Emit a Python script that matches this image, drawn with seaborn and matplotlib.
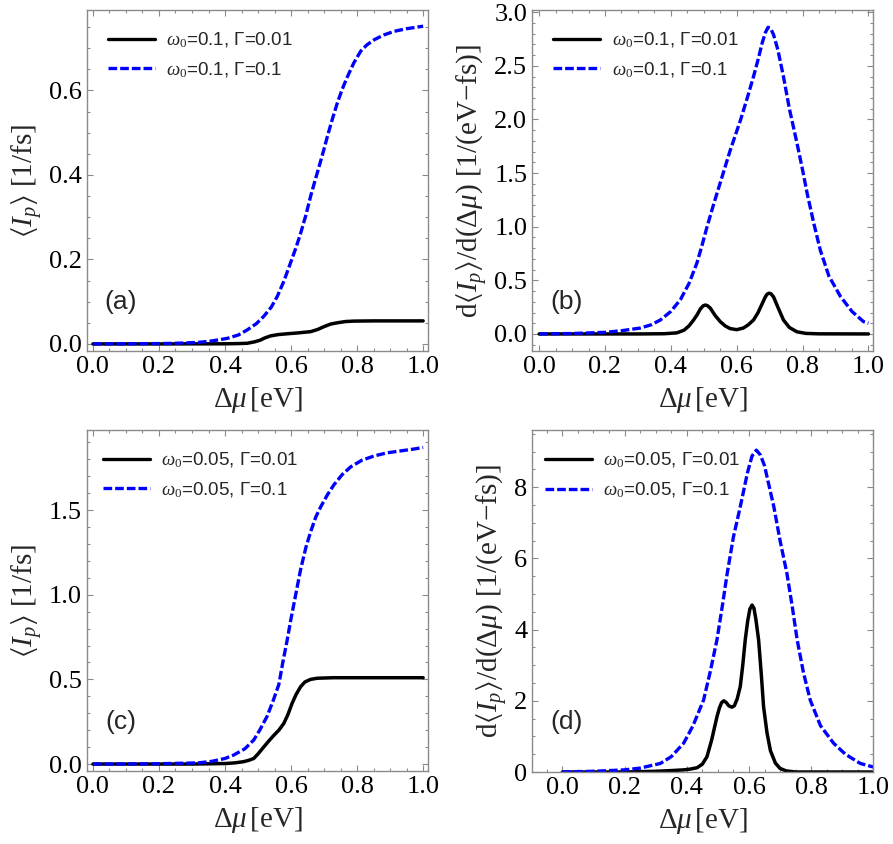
import numpy as np
import pandas as pd

import matplotlib
matplotlib.use('Agg')
import matplotlib.pyplot as plt
from matplotlib.ticker import AutoMinorLocator, MultipleLocator
import seaborn as sns

# ---- data ----
# (a) <I_p>, omega0 = 0.1
xa_blue = [0.0, 0.1, 0.2, 0.25, 0.3, 0.325, 0.36, 0.406, 0.44, 0.467, 0.495, 0.517, 0.54, 0.558,
           0.578, 0.598, 0.615, 0.629, 0.645, 0.659, 0.672, 0.685, 0.698, 0.71, 0.725, 0.74, 0.755,
           0.771, 0.79, 0.811, 0.83, 0.852, 0.88, 0.913, 0.95, 1.0]
ya_blue = [0.0, 0.0002, 0.0008, 0.0015, 0.003, 0.004, 0.007, 0.013, 0.021, 0.033, 0.048, 0.065,
           0.087, 0.112, 0.148, 0.191, 0.228, 0.262, 0.305, 0.349, 0.385, 0.42, 0.456, 0.491, 0.532,
           0.57, 0.603, 0.633, 0.665, 0.693, 0.708, 0.72, 0.731, 0.74, 0.746, 0.752]
xa_black = [0.0, 0.2, 0.4, 0.44, 0.467, 0.49, 0.507, 0.52, 0.538, 0.56, 0.588, 0.62, 0.659, 0.68,
            0.70, 0.72, 0.74, 0.765, 0.791, 0.85, 1.0]
ya_black = [0.0, 0.0, 0.0003, 0.0008, 0.0015, 0.005, 0.009, 0.014, 0.019, 0.022, 0.024, 0.026,
            0.029, 0.034, 0.041, 0.047, 0.05, 0.053, 0.054, 0.0545, 0.0545]

# (b) d<I_p>/d(dmu), omega0 = 0.1
xb_blue = [0.0, 0.1, 0.2, 0.25, 0.307, 0.34, 0.368, 0.4, 0.429, 0.455, 0.479, 0.495, 0.51, 0.53,
           0.55, 0.58, 0.611, 0.631, 0.651, 0.665, 0.677, 0.687, 0.695, 0.703, 0.712, 0.725, 0.742,
           0.76, 0.783, 0.8, 0.814, 0.835, 0.854, 0.88, 0.915, 0.95, 0.985, 1.0]
yb_blue = [0.0, 0.004, 0.015, 0.03, 0.055, 0.085, 0.13, 0.21, 0.32, 0.47, 0.66, 0.83, 1.0, 1.21,
           1.41, 1.71, 1.99, 2.19, 2.40, 2.56, 2.71, 2.81, 2.86, 2.85, 2.79, 2.65, 2.40, 2.10, 1.78,
           1.53, 1.31, 1.02, 0.78, 0.54, 0.35, 0.21, 0.115, 0.10]
xb_black = [0.0, 0.3, 0.38, 0.418, 0.44, 0.455, 0.469, 0.48, 0.49, 0.498, 0.505, 0.512, 0.52,
            0.535, 0.55, 0.565, 0.58, 0.60, 0.62, 0.635, 0.651, 0.665, 0.677, 0.686, 0.692, 0.698,
            0.704, 0.712, 0.725, 0.742, 0.76, 0.783, 0.81, 0.85, 1.0]
yb_black = [0.0, 0.0, 0.002, 0.01, 0.035, 0.075, 0.13, 0.18, 0.235, 0.262, 0.27, 0.262, 0.24,
            0.17, 0.115, 0.075, 0.05, 0.04, 0.055, 0.085, 0.13, 0.2, 0.28, 0.34, 0.37, 0.38,
            0.375, 0.345, 0.25, 0.13, 0.06, 0.02, 0.005, 0.001, 0.0]

# (c) <I_p>, omega0 = 0.05
xc_blue = [0.0, 0.1, 0.2, 0.25, 0.3, 0.325, 0.36, 0.4, 0.426, 0.46, 0.487, 0.505, 0.527, 0.545,
           0.563, 0.575, 0.588, 0.6, 0.609, 0.62, 0.629, 0.645, 0.659, 0.675, 0.69, 0.71, 0.73,
           0.755, 0.781, 0.815, 0.852, 0.89, 0.933, 0.97, 1.0]
yc_blue = [0.0, 0.0005, 0.002, 0.004, 0.006, 0.008, 0.016, 0.033, 0.053, 0.09, 0.142, 0.20, 0.28,
           0.37, 0.47, 0.60, 0.73, 0.86, 0.95, 1.06, 1.15, 1.28, 1.37, 1.46, 1.52, 1.59, 1.65,
           1.71, 1.756, 1.795, 1.82, 1.838, 1.85, 1.86, 1.87]
xc_black = [0.0, 0.3, 0.4, 0.43, 0.456, 0.472, 0.487, 0.5, 0.517, 0.532, 0.548, 0.563, 0.578, 0.59,
            0.603, 0.615, 0.629, 0.642, 0.659, 0.68, 0.73, 0.8, 1.0]
yc_black = [0.0, 0.0, 0.003, 0.007, 0.014, 0.022, 0.033, 0.06, 0.10, 0.135, 0.17, 0.20, 0.24, 0.29,
            0.358, 0.41, 0.457, 0.485, 0.50, 0.507, 0.51, 0.51, 0.51]

# (d) d<I_p>/d(dmu), omega0 = 0.05
xd_blue = [0.0, 0.1, 0.2, 0.25, 0.315, 0.35, 0.39, 0.42, 0.454, 0.475, 0.497, 0.515, 0.53, 0.55,
           0.572, 0.595, 0.61, 0.624, 0.637, 0.65, 0.68, 0.70, 0.722, 0.74, 0.755, 0.775, 0.797,
           0.83, 0.872, 0.91, 0.958, 1.0]
yd_blue = [0.0, 0.02, 0.06, 0.11, 0.24, 0.43, 0.81, 1.3, 2.02, 2.8, 3.71, 4.7, 5.58, 6.6, 7.45,
           8.4, 8.88, 9.04, 8.9, 8.6, 7.45, 6.5, 5.58, 4.6, 3.71, 2.8, 2.02, 1.3, 0.81, 0.5, 0.24,
           0.14]
xd_black = [0.0, 0.2, 0.3, 0.35, 0.39, 0.41, 0.433, 0.45, 0.465, 0.48, 0.497, 0.505, 0.512, 0.519,
            0.527, 0.535, 0.545, 0.553, 0.562, 0.572, 0.58, 0.588, 0.596, 0.603, 0.61, 0.616,
            0.622, 0.631, 0.64, 0.647, 0.658, 0.669, 0.685, 0.70, 0.72, 0.75, 1.0]
yd_black = [0.0, 0.0, 0.02, 0.04, 0.06, 0.08, 0.12, 0.22, 0.43, 0.9, 1.55, 1.8, 1.95, 2.0, 1.95,
            1.86, 1.82, 1.86, 2.05, 2.4, 3.0, 3.71, 4.25, 4.58, 4.69, 4.6, 4.3, 3.71, 2.7, 1.83,
            1.1, 0.6, 0.25, 0.1, 0.03, 0.0, 0.0]

legend_a = [r'$\omega_0$=0.1, Γ=0.01', r'$\omega_0$=0.1, Γ=0.1']
legend_c = [r'$\omega_0$=0.05, Γ=0.01', r'$\omega_0$=0.05, Γ=0.1']
panel_tags = ['(a)', '(b)', '(c)', '(d)']

XLABEL = r'$\Delta\mu\,$[eV]'
YLABEL_I = r'$\langle I_p\rangle$ [1/fs]'
YLABEL_D = r'd$\langle I_p\rangle$/d($\Delta\mu$) [1/(eV$-$fs)]'

sns.set_theme(style='ticks')
plt.rcParams['font.family'] = ['Liberation Serif', 'DejaVu Serif']
plt.rcParams['mathtext.fontset'] = 'custom'
plt.rcParams['mathtext.rm'] = 'Liberation Serif'
plt.rcParams['mathtext.it'] = 'Liberation Serif:italic'
plt.rcParams['mathtext.bf'] = 'Liberation Serif:bold'
plt.rcParams['mathtext.fallback'] = 'stix'

FRAME = '#8a8a8a'


def draw_panel(ax, xs_black, ys_black, xs_blue, ys_blue, labels, tag, ylabel,
               xlim, ylim, ymajor, yminor_n, legend_x):
    df_black = pd.DataFrame({'x': xs_black, 'y': ys_black})
    df_blue = pd.DataFrame({'x': xs_blue, 'y': ys_blue})

    sns.lineplot(data=df_black, x='x', y='y', ax=ax, color='black', linewidth=2.5,
                 label=labels[0], estimator=None, sort=False)
    sns.lineplot(data=df_blue, x='x', y='y', ax=ax, color='#0000ff', linewidth=2.4,
                 label=labels[1], estimator=None, sort=False)
    ax.lines[1].set_linestyle((0, (2.6, 0.9)))

    ax.set_xlim(*xlim)
    ax.set_ylim(*ylim)
    ax.xaxis.set_major_locator(MultipleLocator(0.2))
    ax.xaxis.set_minor_locator(AutoMinorLocator(4))
    ax.yaxis.set_major_locator(MultipleLocator(ymajor))
    ax.yaxis.set_minor_locator(AutoMinorLocator(yminor_n))

    ax.tick_params(which='both', direction='in', top=True, right=True, color=FRAME,
                   labelsize=19, labelcolor='black', width=0.8)
    ax.tick_params(which='major', length=4.5)
    ax.tick_params(which='minor', length=2.5)
    for sp in ax.spines.values():
        sp.set_color(FRAME)
        sp.set_linewidth(1.0)

    ax.set_xlabel(XLABEL, fontsize=21, labelpad=5)
    ax.set_ylabel(ylabel, fontsize=21, labelpad=3)

    leg = ax.legend(loc='upper left', bbox_to_anchor=(legend_x, 0.94), frameon=False,
                    prop={'family': 'Liberation Sans', 'size': 13.5}, handlelength=2.5,
                    handletextpad=0.6, labelspacing=0.55, borderpad=0, borderaxespad=0)
    for h in leg.get_lines():
        h.set_linewidth(2.4)

    ax.text(0.10, 0.145, tag, transform=ax.transAxes, ha='center', va='center',
            fontsize=19, family='Liberation Sans')


fig = plt.figure(figsize=(8.93, 8.44), dpi=100)
ax_a = fig.add_axes([0.0974, 0.584, 0.382, 0.404])
ax_b = fig.add_axes([0.596, 0.584, 0.382, 0.404])
ax_c = fig.add_axes([0.0974, 0.0865, 0.382, 0.404])
ax_d = fig.add_axes([0.596, 0.0853, 0.382, 0.405])

draw_panel(ax_a, xa_black, ya_black, xa_blue, ya_blue, legend_a, panel_tags[0], YLABEL_I,
           (-0.018, 1.015), (-0.017, 0.79), 0.2, 4, 0.062)
draw_panel(ax_b, xb_black, yb_black, xb_blue, yb_blue, legend_a, panel_tags[1], YLABEL_D,
           (-0.021, 1.015), (-0.16, 3.02), 0.5, 5, 0.062)
draw_panel(ax_c, xc_black, yc_black, xc_blue, yc_blue, legend_c, panel_tags[2], YLABEL_I,
           (-0.018, 1.015), (-0.041, 1.973), 0.5, 5, 0.047)
draw_panel(ax_d, xd_black, yd_black, xd_blue, yd_blue, legend_c, panel_tags[3], YLABEL_D,
           (-0.097, 1.0), (0.0, 9.6), 2, 4, 0.038)

fig.savefig('out.png', dpi=100)
